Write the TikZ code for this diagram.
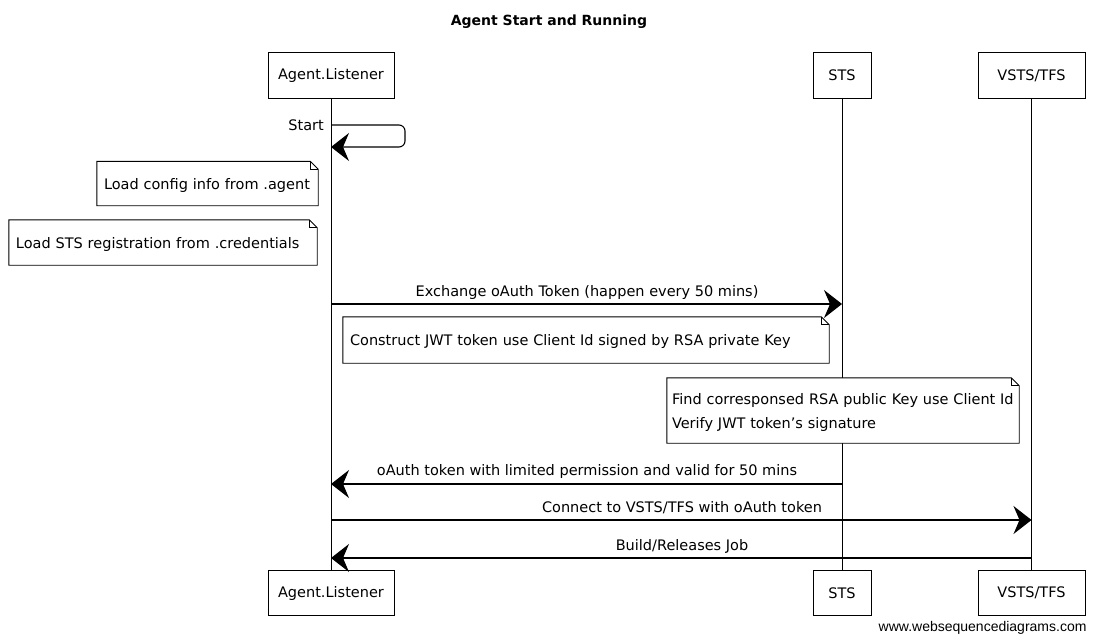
\documentclass[tikz,border=0pt]{standalone}
\usepackage{fontspec}
\setmainfont{DejaVu Sans}
\newfontfamily\footfont{Liberation Sans}
\usetikzlibrary{arrows.meta}
\begin{document}
\begin{tikzpicture}[x=1pt,y=-1pt,
  every node/.style={font=\fontsize{14.5}{17}\selectfont},
  actor/.style={draw, line width=1pt, minimum height=45pt, inner sep=0pt, fill=white},
  note/.style={inner xsep=7pt, inner ysep=0pt, align=left},
  notebox/.style={draw, line width=0.9pt, fill=white},
  msg/.style={line width=1.1pt, -{Stealth[length=18pt,width=28pt,inset=6pt]}},
  life/.style={line width=0.7pt},
  lbl/.style={inner sep=1pt}]
\useasboundingbox (0,0) rectangle (1099,642);

% title
\node[font=\fontsize{14}{17}\selectfont\bfseries] (title) at (549,22) {Agent Start and Running};

% participants
\node[actor, minimum width=126pt] (aT) at (331,75.5) {Agent.Listener};
\node[actor, minimum width=58pt]  (sT) at (842,75.5) {STS};
\node[actor, minimum width=107pt] (vT) at (1031.5,75.5) {VSTS/TFS};
\node[actor, minimum width=126pt] (aB) at (331,593) {Agent.Listener};
\node[actor, minimum width=58pt]  (sB) at (842,593) {STS};
\node[actor, minimum width=107pt] (vB) at (1031.5,593) {VSTS/TFS};

% lifelines
\draw[life] (aT.south) -- (aB.north);
\draw[life] (sT.south) -- (sB.north);
\draw[life] (vT.south) -- (vB.north);

% self message Start
\coordinate (st1) at (331,125);
\coordinate (st2) at (405,125);
\coordinate (st3) at (405,147);
\coordinate (st4) at (331,147);
\draw[msg, rounded corners=6pt] (st1) -- (st2) -- (st3) -- (st4);
\node[lbl, anchor=east] (startL) at (325,125) {Start};

% note placeholders (positions)
\node[note, text width=207pt, minimum height=44pt] (n1) at (207.5,183.5) {};
\node[note, text width=294pt, minimum height=45pt] (n2) at (163,242.5) {};

% exchange message
\coordinate (ex1) at (331,304);
\coordinate (ex2) at (842,304);
\draw[msg] (ex1) -- (ex2);
\node[lbl] (exL) at (587,292) {Exchange oAuth Token (happen every 50 mins)};

\node[note, text width=472pt, minimum height=46pt] (n3) at (586,340) {};
\node[note, text width=338pt, minimum height=65pt] (n4) at (843,410.5) {};

% note outlines
\foreach \n in {n1,n2,n3,n4}{
  \draw[notebox] (\n.north west) -- ([xshift=-8pt]\n.north east) -- ([yshift=-8pt]\n.north east) -- (\n.south east) -- (\n.south west) -- cycle;
  \draw[line width=0.8pt] ([xshift=-8pt]\n.north east) -- ([xshift=-8pt,yshift=-8pt]\n.north east) -- ([yshift=-8pt]\n.north east);
}
\node[note, text width=207pt, minimum height=44pt] (t1) at ([yshift=-1.5pt]n1) {Load config info from .agent};
\node[note, text width=294pt, minimum height=45pt] (t2) at ([yshift=-1.5pt]n2) {Load STS registration from .credentials};
\node[note, text width=472pt, minimum height=46pt] (t3) at ([yshift=-1.5pt]n3) {Construct JWT token use Client Id signed by RSA private Key};
\node[note, inner xsep=5pt, text width=342pt, minimum height=65pt, font=\fontsize{14.5}{24}\selectfont] (t4) at ([yshift=-1.5pt]n4) {\mbox{Find corresponsed RSA public Key use Client Id}\\\mbox{Verify JWT token's signature}};

% oAuth reply
\coordinate (oa1) at (842,484);
\coordinate (oa2) at (331,484);
\draw[msg] (oa1) -- (oa2);
\node[lbl] (oaL) at (587,471) {oAuth token with limited permission and valid for 50 mins};

% connect
\coordinate (cn1) at (331,520);
\coordinate (cn2) at (1031.5,520);
\draw[msg] (cn1) -- (cn2);
\node[lbl] (cnL) at (682,508) {Connect to VSTS/TFS with oAuth token};

% build
\coordinate (bj1) at (1031.5,558);
\coordinate (bj2) at (331,558);
\draw[msg] (bj1) -- (bj2);
\node[lbl] (bjL) at (682,546) {Build/Releases Job};

% footer
\node[font=\footfont\fontsize{14}{16}\selectfont, anchor=east] (foot) at (1090,628) {www.websequencediagrams.com};
\end{tikzpicture}
\end{document}
